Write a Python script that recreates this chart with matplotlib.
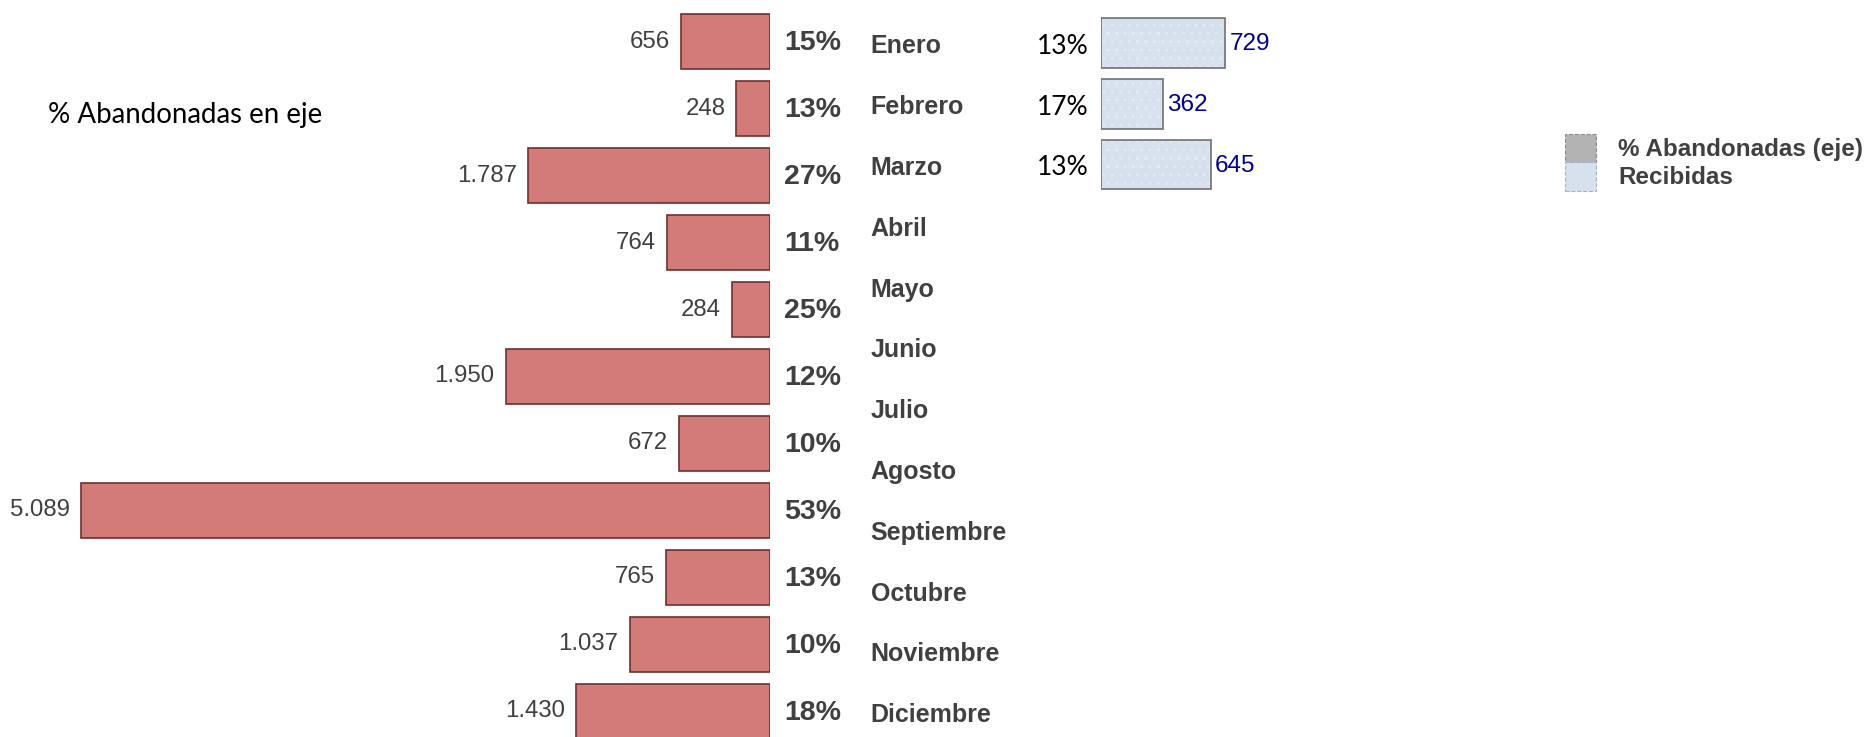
import matplotlib
matplotlib.use("Agg")
import matplotlib.pyplot as plt
import matplotlib.transforms as mtransforms
from matplotlib.patches import Patch

# --- data -------------------------------------------------------------
meses = ["Enero", "Febrero", "Marzo", "Abril", "Mayo", "Junio", "Julio",
         "Agosto", "Septiembre", "Octubre", "Noviembre", "Diciembre"]
abandonadas = [656, 248, 1787, 764, 284, 1950, 672, 5089, 765, 1037, 1430]
pct_abandonadas = [15, 13, 27, 11, 25, 12, 10, 53, 13, 10, 18]
recibidas = [729, 362, 645]
pct_recibidas = [13, 17, 13]


def miles(v):
    return f"{v:,}".replace(",", ".")


W, H = 1870, 737
fig = plt.figure(figsize=(W / 100, H / 100), dpi=100)
fig.patch.set_facecolor("white")

ARIAL = "Liberation Sans"
CALIBRI = ["Lato", "DejaVu Sans"]
GRIS = "#404040"

# --- left block: abandoned calls, growing leftwards --------------------
x0_l = 770          # pixel where the bars start
px_l = 0.13546      # pixels per call
row0_l, step_l = 41.7, 66.96
ax_l = fig.add_axes([0, 0, x0_l / W, 1])
ax_l.set_xlim(-x0_l / px_l, 0)
ax_l.set_ylim((H - row0_l) / step_l, -row0_l / step_l)
ax_l.axis("off")

filas_l = list(range(len(abandonadas)))
ax_l.barh(filas_l, [-v for v in abandonadas], height=0.82,
          color="#D27B79", edgecolor="#6E3030", linewidth=1.2)
for fila, v, p in zip(filas_l, abandonadas, pct_abandonadas):
    ax_l.annotate(miles(v), (-v, fila), xytext=(-8, 0),
                  textcoords="offset points", ha="right", va="center",
                  fontsize=17.3, color=GRIS, family=ARIAL)
    ax_l.annotate(f"{p}%", (0, fila), xytext=(10, -1),
                  textcoords="offset points", ha="left", va="center",
                  fontsize=20.5, fontweight="bold", color=GRIS, family=ARIAL,
                  annotation_clip=False)

# --- right block: received calls ---------------------------------------
x0_r = 1100.8
px_r = 0.1705
row0_r, step_r = 42.9, 60.8
ax_r = fig.add_axes([x0_r / W, 0, (W - x0_r) / W, 1])
ax_r.set_xlim(0, (W - x0_r) / px_r)
ax_r.set_ylim((H - row0_r) / step_r, -row0_r / step_r)
ax_r.axis("off")

filas_r = list(range(len(recibidas)))
ax_r.barh(filas_r, recibidas, height=0.82, color="#D7E1ED",
          edgecolor="#E4EBF4", linewidth=0, hatch="..")
ax_r.barh(filas_r, recibidas, height=0.82, fill=False,
          edgecolor="#6F6F6F", linewidth=1.2)
for fila, v, p in zip(filas_r, recibidas, pct_recibidas):
    ax_r.annotate(miles(v), (v, fila), xytext=(3, -1),
                  textcoords="offset points", ha="left", va="center",
                  fontsize=17.5, color="#00008F", family=ARIAL)
    ax_r.annotate(f"{p}%", (0, fila), xytext=(-9, -2.5),
                  textcoords="offset points", ha="right", va="center",
                  fontsize=19, color="black", family=CALIBRI,
                  annotation_clip=False)

# month names sit on the right block's row grid
trans = mtransforms.blended_transform_factory(fig.transFigure, ax_r.transData)
for i, m in enumerate(meses):
    ax_r.annotate(m, (870.6 / W, i), xycoords=trans, xytext=(0, -2.5),
                  textcoords="offset points", ha="left", va="center",
                  fontsize=18, fontweight="bold", color=GRIS, family=ARIAL,
                  annotation_clip=False)

fig.text(47.7 / W, 1 - 114.5 / H, "% Abandonadas en eje", ha="left",
         va="center", fontsize=19.9, color="black", family=CALIBRI)

# --- legend -----------------------------------------------------------
handles = [
    Patch(facecolor="#B3B3B3", edgecolor="#8C8C8C", linestyle="--",
          linewidth=0.8, label="% Abandonadas (eje)"),
    Patch(facecolor="#D7E1ED", edgecolor="#A8B4C4", linestyle="--",
          linewidth=0.8, label="Recibidas"),
]
leg = fig.legend(handles=handles, loc="upper left",
                 bbox_to_anchor=(1565 / W, 1 - 133.6 / H), frameon=False,
                 borderpad=0, borderaxespad=0, labelspacing=0,
                 handlelength=1.28, handleheight=1.43, handletextpad=0.9,
                 prop={"family": ARIAL, "weight": "bold", "size": 17.5})
for t in leg.get_texts():
    t.set_color(GRIS)

fig.savefig("out.png", dpi=100, facecolor="white")
